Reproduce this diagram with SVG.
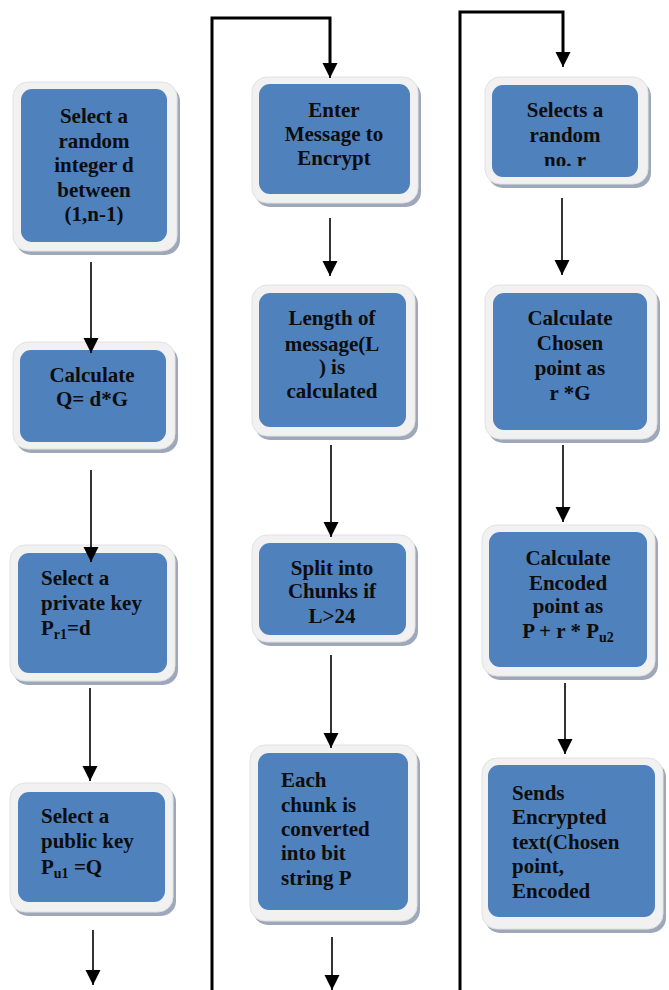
<svg xmlns="http://www.w3.org/2000/svg" width="669" height="990" viewBox="0 0 669 990">
<style>
.sh{fill:#9ea8ba}
.out{fill:#f1f1f1;stroke:#e2e2e2;stroke-width:1}
.in{fill:#4f81bd}
text{font-family:"Liberation Serif","Times New Roman",serif;font-weight:bold;font-size:21px;fill:#0d0d0d}
.c{text-anchor:middle}
.sub{font-size:14px}
.ar{stroke:#000;stroke-width:1.6;fill:none;marker-end:url(#ah)}
.thick{stroke:#000;stroke-width:3;fill:none}
</style>
<defs>
<marker id="ah" markerUnits="userSpaceOnUse" markerWidth="16" markerHeight="16" viewBox="0 0 16 16" refX="15" refY="8" orient="auto">
<path d="M0,0.5 L15,8 L0,15.5 Z" fill="#000"/>
</marker>
<clipPath id="clipR1"><rect x="480" y="80" width="180" height="86"/></clipPath>
</defs>

<g id="n1">
<rect class="sh" x="16" y="86" width="164" height="169" rx="15"/>
<rect class="out" x="13" y="82" width="164" height="169" rx="15"/>
<rect class="in" x="21" y="89" width="146" height="153" rx="11"/>
<text class="c" x="94" y="123">Select a</text>
<text class="c" x="94" y="147.5">random</text>
<text class="c" x="94" y="172">integer d</text>
<text class="c" x="94" y="196.5">between</text>
<text class="c" x="94" y="221">(1,n-1)</text>
</g>

<g id="n2">
<rect class="sh" x="16" y="346" width="162" height="107" rx="15"/>
<rect class="out" x="13" y="342" width="162" height="107" rx="15"/>
<rect class="in" x="20" y="350" width="146" height="92" rx="11"/>
<text class="c" x="92" y="382">Calculate</text>
<text class="c" x="92" y="406">Q= d*G</text>
</g>

<g id="n3">
<rect class="sh" x="13" y="549" width="165" height="136" rx="15"/>
<rect class="out" x="10" y="545" width="165" height="136" rx="15"/>
<rect class="in" x="18" y="553" width="149" height="120" rx="11"/>
<text x="41" y="585">Select a</text>
<text x="41" y="610">private key</text>
<text x="41" y="635">P<tspan class="sub" dy="4">r1</tspan><tspan dy="-4">=d</tspan></text>
</g>

<g id="n4">
<rect class="sh" x="13" y="787" width="163" height="129" rx="15"/>
<rect class="out" x="10" y="783" width="163" height="129" rx="15"/>
<rect class="in" x="18" y="792" width="147" height="110" rx="11"/>
<text x="41" y="823">Select a</text>
<text x="41" y="848">public key</text>
<text x="41" y="874">P<tspan class="sub" dy="4">u1</tspan><tspan dy="-4"> =Q</tspan></text>
</g>

<g id="m1">
<rect class="sh" x="255" y="81" width="166" height="126" rx="15"/>
<rect class="out" x="252" y="77" width="166" height="126" rx="15"/>
<rect class="in" x="259" y="84" width="151" height="110" rx="11"/>
<text class="c" x="334" y="117">Enter</text>
<text class="c" x="334" y="141">Message to</text>
<text class="c" x="334" y="165">Encrypt</text>
</g>

<g id="m2">
<rect class="sh" x="255" y="289" width="163" height="151" rx="15"/>
<rect class="out" x="252" y="285" width="163" height="151" rx="15"/>
<rect class="in" x="259" y="293" width="147" height="134" rx="11"/>
<text class="c" x="332" y="325">Length of</text>
<text class="c" x="332" y="351">message(L</text>
<text class="c" x="332" y="374">) is</text>
<text class="c" x="332" y="398">calculated</text>
</g>

<g id="m3">
<rect class="sh" x="255" y="539" width="163" height="107" rx="15"/>
<rect class="out" x="252" y="535" width="163" height="107" rx="15"/>
<rect class="in" x="259" y="543" width="147" height="92" rx="11"/>
<text class="c" x="332" y="575">Split into</text>
<text class="c" x="332" y="598">Chunks if</text>
<text class="c" x="332" y="623">L&gt;24</text>
</g>

<g id="m4">
<rect class="sh" x="253" y="749" width="167" height="176" rx="15"/>
<rect class="out" x="250" y="745" width="167" height="176" rx="15"/>
<rect class="in" x="258" y="753" width="150" height="157" rx="11"/>
<text x="281" y="787">Each</text>
<text x="281" y="812">chunk is</text>
<text x="281" y="836">converted</text>
<text x="281" y="860">into bit</text>
<text x="281" y="885">string P</text>
</g>

<g id="r1">
<rect class="sh" x="488" y="81" width="163" height="107" rx="15"/>
<rect class="out" x="485" y="77" width="163" height="107" rx="15"/>
<rect class="in" x="492" y="85" width="146" height="92" rx="11"/>
<g clip-path="url(#clipR1)">
<text class="c" x="565" y="117">Selects a</text>
<text class="c" x="565" y="142">random</text>
<text class="c" x="565" y="167">no. r</text>
</g>
</g>

<g id="r2">
<rect class="sh" x="488" y="289" width="172" height="154" rx="15"/>
<rect class="out" x="485" y="285" width="172" height="154" rx="15"/>
<rect class="in" x="493" y="293" width="154" height="137" rx="11"/>
<text class="c" x="570" y="325">Calculate</text>
<text class="c" x="570" y="350">Chosen</text>
<text class="c" x="570" y="375">point as</text>
<text class="c" x="570" y="400">r *G</text>
</g>

<g id="r3">
<rect class="sh" x="485" y="529" width="173" height="151" rx="15"/>
<rect class="out" x="482" y="525" width="173" height="151" rx="15"/>
<rect class="in" x="489" y="532" width="158" height="135" rx="11"/>
<text class="c" x="568" y="565">Calculate</text>
<text class="c" x="568" y="590">Encoded</text>
<text class="c" x="568" y="613">point as</text>
<text class="c" x="568" y="638">P + r * P<tspan class="sub" dy="4">u2</tspan></text>
</g>

<g id="r4">
<rect class="sh" x="485" y="762" width="181" height="171" rx="15"/>
<rect class="out" x="482" y="758" width="181" height="171" rx="15"/>
<rect class="in" x="488" y="765" width="167" height="152" rx="11"/>
<text x="512" y="800">Sends</text>
<text x="512" y="824">Encrypted</text>
<text x="512" y="849">text(Chosen</text>
<text x="512" y="873">point,</text>
<text x="512" y="898">Encoded</text>
</g>

<g id="connectors">
<line class="ar" x1="91" y1="262" x2="91" y2="353"/>
<line class="ar" x1="91" y1="470" x2="91" y2="562"/>
<line class="ar" x1="90" y1="688" x2="90" y2="781"/>
<line class="ar" x1="93" y1="930" x2="93" y2="985"/>
<path class="thick" d="M212,990 V18 H330 V64"/>
<line class="ar" x1="330" y1="50" x2="330" y2="78"/>
<line class="ar" x1="330" y1="218" x2="330" y2="276"/>
<line class="ar" x1="331" y1="445" x2="331" y2="537"/>
<line class="ar" x1="331" y1="655" x2="331" y2="748"/>
<line class="ar" x1="332" y1="937" x2="332" y2="990"/>
<path class="thick" d="M460,990 V12 H563 V54"/>
<line class="ar" x1="563" y1="40" x2="563" y2="67"/>
<line class="ar" x1="562" y1="198" x2="562" y2="275"/>
<line class="ar" x1="563" y1="445" x2="563" y2="522"/>
<line class="ar" x1="565" y1="683" x2="565" y2="754"/>
</g>
</svg>
